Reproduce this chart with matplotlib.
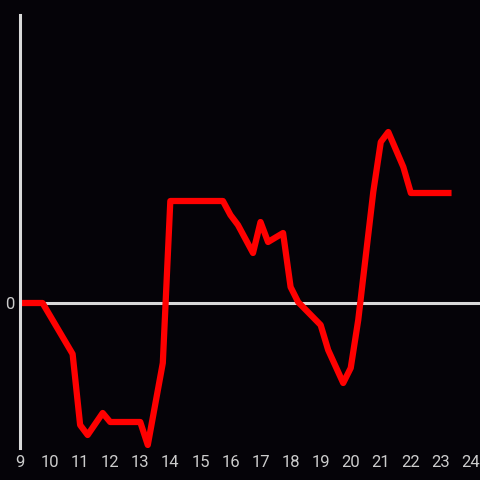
import matplotlib.pyplot as plt

plt.rcParams['font.family'] = ['Roboto', 'DejaVu Sans']

# hours of day and the value
hours = [9, 9.75, 10.75, 11, 11.25, 11.75, 12, 13, 13.25, 13.75, 14, 15.75, 16, 16.25,
         16.75, 17, 17.25, 17.75, 18, 18.25, 19, 19.25, 19.75, 20, 20.25, 20.75, 21,
         21.25, 21.75, 22, 23.25]
values = [0, 0, -5.1, -12.2, -13.2, -11, -11.9, -11.9, -14.2, -6, 10.2, 10.2, 8.8, 7.8,
          5, 8.1, 6.1, 7, 1.6, 0.1, -2.2, -4.7, -8, -6.5, -1.7, 11.1, 16.1, 17.1, 13.6,
          11, 11]
xticks = list(range(9, 25))

bg = "#050308"
grey = "#d9d9d9"

fig = plt.figure(figsize=(4.8, 4.8), dpi=100, facecolor=bg)
ax = fig.add_axes([20/480, 32/480, 460/480, 433/480], facecolor=bg)

ax.axhline(0, color=grey, lw=2.2, zorder=1)
ax.plot(hours, values, color="#ff0000", lw=4.5, zorder=2)

ax.set_xlim(9, 24.3)
ax.set_ylim(-14.5, 28.8)
ax.set_xticks(xticks)
ax.set_yticks([0])
ax.tick_params(colors="#cccccc", labelsize=12, length=0, pad=5)
ax.tick_params(axis="y", pad=4)

for s in ["top", "right", "bottom"]:
    ax.spines[s].set_visible(False)
ax.spines["left"].set_color(grey)
ax.spines["left"].set_linewidth(2.2)

fig.savefig("out.png", facecolor=bg)
